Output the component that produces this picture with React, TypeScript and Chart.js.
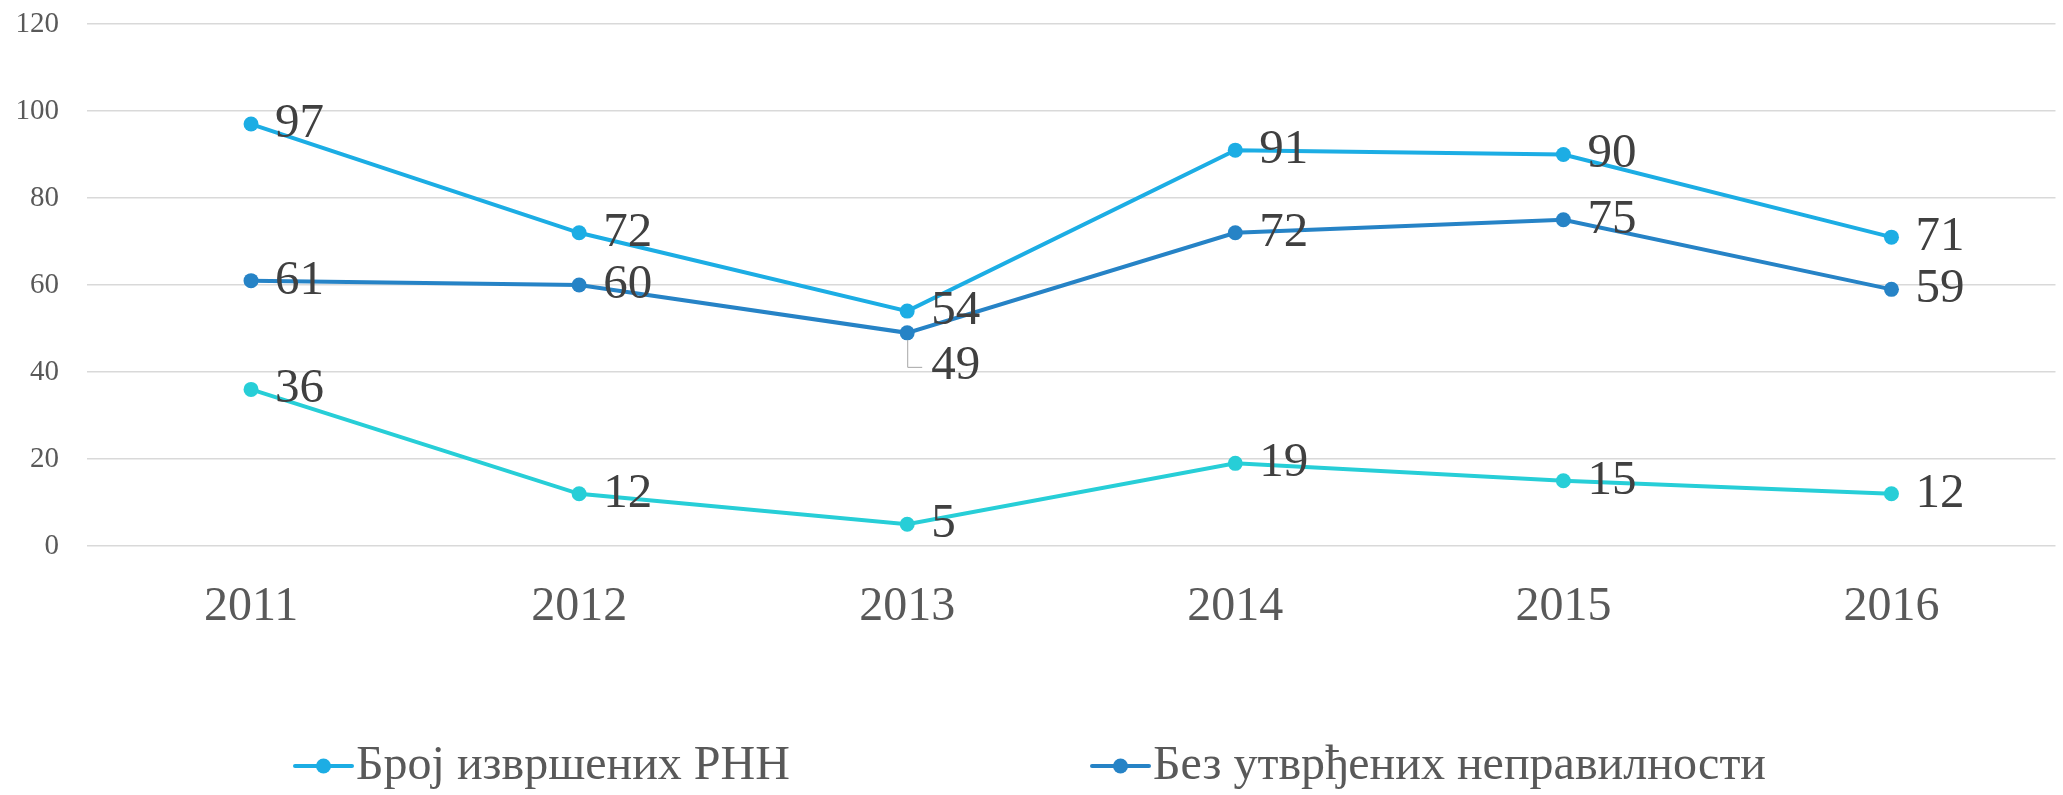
import React, { useEffect, useRef } from "react";
import { Chart, registerables } from "chart.js";

Chart.register(...registerables);

const years = ["2011", "2012", "2013", "2014", "2015", "2016"];
const totalInspections = [97, 72, 54, 91, 90, 71];
const noIrregularities = [61, 60, 49, 72, 75, 59];
const withIrregularities = [36, 12, 5, 19, 15, 12];

const seriesNames = [
  "Број извршених РНН",
  "Без утврђених неправилности",
  "Са утврђеним неправилностима",
];
const seriesColors = ["#1CADE4", "#2683C6", "#27CED7"];
const legendSeries = [0, 1];

const FONT = "'Liberation Serif', 'DejaVu Serif', serif";

const dataLabelPlugin = {
  id: "dataLabels",
  afterDatasetsDraw(chart: any) {
    const ctx = chart.ctx;
    ctx.save();
    ctx.font = `49px ${FONT}`;
    ctx.fillStyle = "#404040";
    ctx.textAlign = "left";
    ctx.textBaseline = "middle";
    chart.data.datasets.forEach((ds: any, di: number) => {
      const meta = chart.getDatasetMeta(di);
      meta.data.forEach((pt: any, i: number) => {
        const v = ds.data[i];
        let dy = 0;
        // "49" label was moved below its point, with a leader line
        if (di === 1 && i === 2) {
          dy = 33;
          ctx.save();
          ctx.strokeStyle = "#a6a6a6";
          ctx.lineWidth = 1;
          ctx.beginPath();
          ctx.moveTo(pt.x + 0.5, pt.y + 7);
          ctx.lineTo(pt.x + 0.5, pt.y + 34.5);
          ctx.lineTo(pt.x + 15, pt.y + 34.5);
          ctx.stroke();
          ctx.restore();
        }
        ctx.fillText(String(v), pt.x + 24, pt.y + dy);
      });
    });
    ctx.restore();
  },
};

const legendPlugin = {
  id: "customLegend",
  afterDraw(chart: any) {
    const ctx = chart.ctx;
    const starts = [295, 1092];
    const y = 766;
    ctx.save();
    ctx.font = `48px ${FONT}`;
    ctx.textBaseline = "middle";
    ctx.textAlign = "left";
    legendSeries.forEach((di, k) => {
      const ds = chart.data.datasets[di];
      const x0 = starts[k];
      ctx.strokeStyle = ds.borderColor;
      ctx.lineWidth = 4;
      ctx.lineCap = "round";
      ctx.beginPath();
      ctx.moveTo(x0, y);
      ctx.lineTo(x0 + 57, y);
      ctx.stroke();
      ctx.fillStyle = ds.borderColor;
      ctx.beginPath();
      ctx.arc(x0 + 28.5, y, 7.5, 0, Math.PI * 2);
      ctx.fill();
      ctx.fillStyle = "#595959";
      ctx.fillText(ds.label, x0 + 61, y);
    });
    ctx.restore();
  },
};

export default function App() {
  const ref = useRef<HTMLCanvasElement>(null);
  useEffect(() => {
    if (!ref.current) return;
    const seriesData = [totalInspections, noIrregularities, withIrregularities];
    const chart = new Chart(ref.current, {
      type: "line",
      data: {
        labels: years,
        datasets: seriesData.map((d, i) => ({
          label: seriesNames[i],
          data: d,
          borderColor: seriesColors[i],
          backgroundColor: seriesColors[i],
          pointBackgroundColor: seriesColors[i],
          pointBorderWidth: 0,
          pointRadius: 7.5,
          borderWidth: 4,
          tension: 0,
          order: 3 - i,
        })),
      },
      options: {
        responsive: false,
        animation: false,
        devicePixelRatio: 1,
        layout: { padding: { top: 24, left: 0, right: 0, bottom: 0 } },
        plugins: {
          legend: { display: false },
          tooltip: { enabled: false },
        },
        scales: {
          x: {
            offset: true,
            grid: { display: false, drawTicks: false },
            border: { display: false },
            ticks: {
              font: { family: FONT, size: 48 },
              color: "#595959",
              padding: 33,
            },
            afterFit: (s: any) => {
              s.height = 249;
            },
          },
          y: {
            min: 0,
            max: 120,
            grid: { color: "#d9d9d9", lineWidth: 1.5, drawTicks: false },
            border: { display: false },
            ticks: {
              stepSize: 20,
              font: { family: FONT, size: 29 },
              color: "#595959",
              padding: 28,
            },
            afterFit: (s: any) => {
              s.width = 87;
              s.paddingTop = 0;
              s.paddingBottom = 0;
            },
          },
        },
      },
      plugins: [dataLabelPlugin, legendPlugin],
    });
    return () => chart.destroy();
  }, []);
  return (
    <div style={{ position: "fixed", left: 0, top: 0, width: 2063, height: 795, background: "#fff" }}>
      <canvas ref={ref} width={2063} height={795} style={{ display: "block" }} />
    </div>
  );
}
